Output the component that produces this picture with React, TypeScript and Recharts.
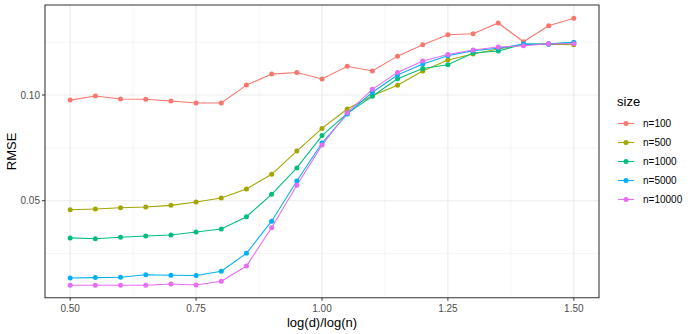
import { LineChart, Line, XAxis, YAxis, CartesianGrid, ReferenceArea } from 'recharts';

const xs = [0.5, 0.55, 0.6, 0.65, 0.7, 0.75, 0.8, 0.85, 0.9, 0.95, 1.0, 1.05, 1.1, 1.15, 1.2, 1.25, 1.3, 1.35, 1.4, 1.45, 1.5];

const n100 = [0.0976, 0.0995, 0.0981, 0.098, 0.0972, 0.0962, 0.0962, 0.1047, 0.1099, 0.1107, 0.1076, 0.1136, 0.1114, 0.1184, 0.1238, 0.1285, 0.129, 0.1341, 0.1252, 0.1328, 0.1363];
const n500 = [0.0457, 0.0461, 0.0467, 0.047, 0.0478, 0.0494, 0.0513, 0.0555, 0.0625, 0.0735, 0.0842, 0.0934, 0.0997, 0.1046, 0.1114, 0.1166, 0.1194, 0.1218, 0.1238, 0.1241, 0.1238];
const n1000 = [0.0324, 0.032, 0.0327, 0.0333, 0.0338, 0.0352, 0.0366, 0.0424, 0.053, 0.0655, 0.0808, 0.0913, 0.0994, 0.1077, 0.1126, 0.1143, 0.1199, 0.1208, 0.1241, 0.1243, 0.1249];
const n5000 = [0.0134, 0.0136, 0.0138, 0.015, 0.0147, 0.0146, 0.0166, 0.0251, 0.0403, 0.0593, 0.0773, 0.091, 0.1013, 0.1095, 0.1147, 0.1186, 0.121, 0.1221, 0.1241, 0.124, 0.1249];
const n10000 = [0.01, 0.01, 0.01, 0.01, 0.0106, 0.0101, 0.0119, 0.0191, 0.0372, 0.0573, 0.0763, 0.0916, 0.1027, 0.1107, 0.1161, 0.1192, 0.1213, 0.1227, 0.1233, 0.1243, 0.1243];

const xTicks = [0.5, 0.75, 1.0, 1.25, 1.5];
const xMinor = [0.625, 0.875, 1.125, 1.375];
const yTicks = [0.05, 0.1];
const yMinor = [0.025, 0.075, 0.125];

const series = [
  { key: 'n100', name: 'n=100', values: n100, color: '#F8766D' },
  { key: 'n500', name: 'n=500', values: n500, color: '#A3A500' },
  { key: 'n1000', name: 'n=1000', values: n1000, color: '#00BF7D' },
  { key: 'n5000', name: 'n=5000', values: n5000, color: '#00B0F6' },
  { key: 'n10000', name: 'n=10000', values: n10000, color: '#E76BF3' },
];

const data = xs.map((x, i) => {
  const row: Record<string, number> = { x };
  series.forEach((s) => (row[s.key] = s.values[i]));
  return row;
});

const font = '"Liberation Sans", Arial, sans-serif';
const X_DOMAIN = [0.45, 1.55];
const Y_DOMAIN = [0.0041, 0.1426];

export default function App() {
  return (
    <div style={{ position: 'absolute', left: 0, top: 0, width: 692, height: 334, background: '#fff', fontFamily: font }}>
      <LineChart width={692} height={334} data={data} margin={{ top: 5, right: 93, left: 0, bottom: 0 }}>
        <CartesianGrid stroke="#EBEBEB" strokeWidth={0.55} horizontalValues={yMinor} verticalValues={xMinor} />
        <CartesianGrid stroke="#EBEBEB" strokeWidth={1.07} horizontalValues={yTicks} verticalValues={xTicks} />
        <XAxis
          type="number"
          dataKey="x"
          domain={X_DOMAIN}
          allowDataOverflow
          ticks={xTicks}
          tickFormatter={(v: number) => v.toFixed(2)}
          height={36.3}
          tickSize={3}
          tickMargin={4}
          axisLine={false}
          tickLine={{ stroke: '#333333' }}
          tick={{ fill: '#4D4D4D', fontSize: 10, fontFamily: font }}
          label={({ viewBox }: any) => (
            <text x={viewBox.x + viewBox.width / 2} y={viewBox.y + 29} textAnchor="middle" fontSize={13} fontFamily={font} fill="#000">
              log(d)/log(n)
            </text>
          )}
        />
        <YAxis
          type="number"
          domain={Y_DOMAIN}
          allowDataOverflow
          ticks={yTicks}
          tickFormatter={(v: number) => v.toFixed(2)}
          width={45}
          tickSize={3}
          tickMargin={2}
          axisLine={false}
          tickLine={{ stroke: '#333333' }}
          tick={{ fill: '#4D4D4D', fontSize: 10, fontFamily: font }}
          label={({ viewBox }: any) => {
            const cx = 16.5;
            const cy = viewBox.y + viewBox.height / 2;
            return (
              <text x={cx} y={cy} transform={`rotate(-90, ${cx}, ${cy})`} textAnchor="middle" fontSize={13} fontFamily={font} fill="#000">
                RMSE
              </text>
            );
          }}
        />
        {series.map((s) => (
          <Line
            key={s.key}
            dataKey={s.key}
            name={s.name}
            stroke={s.color}
            strokeWidth={1.07}
            dot={{ r: 2.5, fill: s.color, stroke: s.color, strokeWidth: 0 }}
            activeDot={false}
            isAnimationActive={false}
          />
        ))}
        <ReferenceArea x1={X_DOMAIN[0]} x2={X_DOMAIN[1]} y1={Y_DOMAIN[0]} y2={Y_DOMAIN[1]} fill="none" stroke="#333333" strokeWidth={1.07} />
      </LineChart>
      <div style={{ position: 'absolute', left: 614, top: 92 }}>
        <div style={{ fontSize: 13, lineHeight: '16px', marginLeft: 3, marginTop: 2, marginBottom: 4 }}>size</div>
        {series.map((s) => (
          <div key={s.key} style={{ display: 'flex', alignItems: 'center', height: 19 }}>
            <svg width={26} height={19} style={{ display: 'block' }}>
              <line x1={4} x2={20} y1={9.5} y2={9.5} stroke={s.color} strokeWidth={1.07} />
              <circle cx={12} cy={9.5} r={2.5} fill={s.color} />
            </svg>
            <span style={{ fontSize: 10, color: '#000', marginLeft: 3 }}>{s.name}</span>
          </div>
        ))}
      </div>
    </div>
  );
}
